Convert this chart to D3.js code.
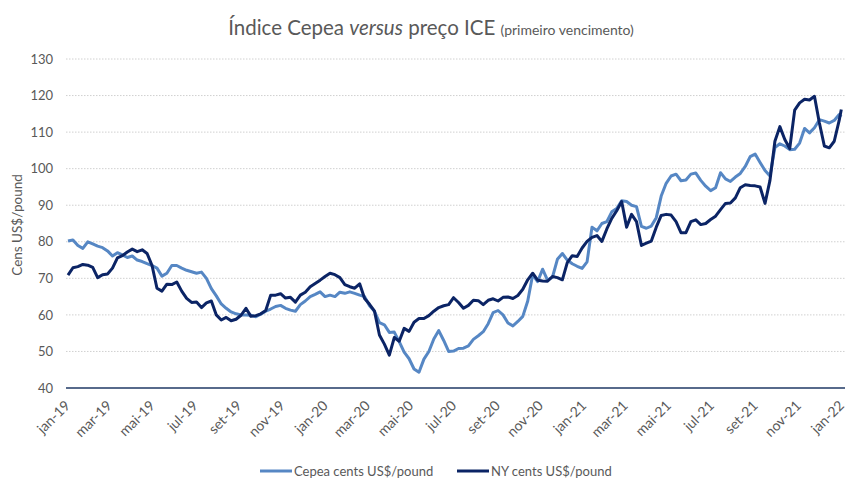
<!DOCTYPE html>
<html>
<head>
<meta charset="utf-8">
<script src="https://cdn.jsdelivr.net/npm/d3@7"></script>
<style>
  body { margin: 0; background: #fff; }
  svg { font-family: Lato, "Open Sans", sans-serif; }
</style>
</head>
<body>
<svg width="846" height="478"></svg>
<script>
// weekly quotes, jan-2019 to dez-2021
var dates = [
  "2019-01-01","2019-01-08","2019-01-15","2019-01-22","2019-01-29","2019-02-05","2019-02-12","2019-02-19","2019-02-26",
  "2019-03-05","2019-03-12","2019-03-19","2019-03-26","2019-04-02","2019-04-09","2019-04-16","2019-04-23","2019-04-30",
  "2019-05-07","2019-05-14","2019-05-21","2019-05-28","2019-06-04","2019-06-11","2019-06-18","2019-06-25","2019-07-02",
  "2019-07-09","2019-07-16","2019-07-23","2019-07-30","2019-08-06","2019-08-13","2019-08-20","2019-08-27","2019-09-03",
  "2019-09-10","2019-09-17","2019-09-24","2019-10-01","2019-10-08","2019-10-15","2019-10-22","2019-10-29","2019-11-05",
  "2019-11-12","2019-11-19","2019-11-26","2019-12-03","2019-12-10","2019-12-17","2019-12-24","2019-12-31",
  "2020-01-07","2020-01-14","2020-01-21","2020-01-28","2020-02-04","2020-02-11","2020-02-18","2020-02-25","2020-03-03",
  "2020-03-10","2020-03-17","2020-03-24","2020-03-31","2020-04-07","2020-04-14","2020-04-21","2020-04-28","2020-05-05",
  "2020-05-12","2020-05-19","2020-05-26","2020-06-02","2020-06-09","2020-06-16","2020-06-23","2020-06-30","2020-07-07",
  "2020-07-14","2020-07-21","2020-07-28","2020-08-04","2020-08-11","2020-08-18","2020-08-25","2020-09-01","2020-09-08",
  "2020-09-15","2020-09-22","2020-09-29","2020-10-06","2020-10-13","2020-10-20","2020-10-27","2020-11-03","2020-11-10",
  "2020-11-17","2020-11-24","2020-12-01","2020-12-08","2020-12-15","2020-12-22","2020-12-29",
  "2021-01-05","2021-01-12","2021-01-19","2021-01-26","2021-02-02","2021-02-09","2021-02-16","2021-02-23","2021-03-02",
  "2021-03-09","2021-03-16","2021-03-23","2021-03-30","2021-04-06","2021-04-13","2021-04-20","2021-04-27","2021-05-04",
  "2021-05-11","2021-05-18","2021-05-25","2021-06-01","2021-06-08","2021-06-15","2021-06-22","2021-06-29","2021-07-06",
  "2021-07-13","2021-07-20","2021-07-27","2021-08-03","2021-08-10","2021-08-17","2021-08-24","2021-08-31","2021-09-07",
  "2021-09-14","2021-09-21","2021-09-28","2021-10-05","2021-10-12","2021-10-19","2021-10-26","2021-11-02","2021-11-09",
  "2021-11-16","2021-11-23","2021-11-30","2021-12-07","2021-12-14","2021-12-21","2021-12-28","2021-12-31"
];

// Cepea cents US$/pound
var cepea = [
  80.2, 80.5, 79.0, 78.2, 80.0, 79.4, 78.8, 78.4, 77.5, 76.1, 77.0, 76.4, 75.7, 76.1, 75.0, 74.6, 74.0, 73.5,
  72.8, 70.6, 71.4, 73.5, 73.5, 72.8, 72.2, 71.8, 71.4, 71.7, 70.0, 67.2, 65.2, 63.0, 61.8, 60.8, 60.3, 60.0,
  60.0, 59.9, 59.5, 60.2, 61.0, 61.6, 62.3, 62.6, 61.8, 61.3, 61.0, 62.8, 63.8, 65.0, 65.6, 66.3, 65.0,
  65.4, 65.0, 66.2, 65.9, 66.3, 65.9, 65.4, 65.0, 62.5, 61.0, 57.9, 57.3, 55.2, 55.3, 52.7, 49.8, 48.0, 45.2,
  44.3, 47.9, 50.0, 53.4, 55.7, 53.0, 50.0, 50.1, 50.8, 50.9, 51.5, 53.3, 54.3, 55.4, 57.6, 60.6, 61.2, 60.0,
  57.8, 57.0, 58.2, 59.6, 63.8, 71.0, 69.1, 72.5, 69.5, 70.3, 75.2, 76.8, 75.0, 74.0, 73.3, 72.7,
  74.5, 84.0, 83.0, 85.0, 85.5, 88.2, 89.1, 91.2, 91.0, 90.0, 89.6, 84.2, 83.7, 84.3, 86.6, 92.5, 96.0, 98.0,
  98.5, 96.7, 96.9, 98.5, 98.8, 96.8, 95.2, 94.0, 94.8, 98.9, 97.2, 96.5, 97.7, 98.7, 100.6, 103.3, 104.0, 101.7,
  99.5, 98.0, 105.8, 106.8, 106.2, 105.2, 105.3, 107.0, 111.0, 109.8, 111.2, 113.4, 113.0, 112.5, 113.2, 114.8, 114.2
];

// NY cents US$/pound (ICE, primeiro vencimento)
var ny = [
  70.9, 72.9, 73.2, 73.8, 73.6, 73.0, 70.2, 71.0, 71.2, 72.8, 75.6, 76.2, 77.2, 78.0, 77.3, 77.8, 76.8, 73.5,
  67.3, 66.5, 68.4, 68.3, 69.0, 66.5, 64.5, 63.4, 63.5, 62.0, 63.3, 63.8, 60.0, 58.6, 59.3, 58.4, 58.8, 59.9,
  61.8, 59.6, 59.8, 60.3, 61.2, 65.4, 65.4, 65.8, 64.6, 64.8, 63.5, 65.4, 66.2, 67.7, 68.6, 69.5, 70.5,
  71.4, 71.0, 70.2, 68.3, 67.7, 67.3, 68.5, 64.5, 62.9, 61.0, 54.5, 52.0, 49.0, 53.8, 52.8, 56.3, 55.5, 58.0,
  59.0, 59.0, 59.8, 61.0, 62.0, 62.5, 62.8, 64.7, 63.4, 61.8, 62.6, 64.0, 63.9, 62.8, 64.0, 64.4, 63.8, 64.8,
  64.9, 64.5, 65.3, 67.0, 69.6, 71.4, 69.5, 69.3, 69.2, 70.5, 70.2, 69.6, 74.3, 76.2, 76.0, 78.3,
  80.1, 81.2, 81.7, 80.1, 83.5, 86.4, 88.5, 91.0, 84.0, 87.5, 85.5, 79.0, 79.6, 80.2, 84.0, 87.2, 87.5, 87.3,
  85.5, 82.5, 82.5, 85.5, 86.0, 84.7, 85.0, 86.1, 87.0, 88.8, 90.5, 90.6, 92.0, 94.8, 95.6, 95.4, 95.3, 95.0,
  90.5, 96.8, 107.5, 111.5, 108.0, 105.5, 116.0, 118.0, 119.0, 118.8, 119.8, 112.5, 106.2, 105.7, 107.5, 113.2, 116.2
];

var yTicks = [40, 50, 60, 70, 80, 90, 100, 110, 120, 130];
var mesesPt = ["jan", "fev", "mar", "abr", "mai", "jun", "jul", "ago", "set", "out", "nov", "dez"];
var seriesNames = ["Cepea cents US$/pound", "NY cents US$/pound"];
var seriesColors = ["#5687c4", "#0b2465"];

var svg = d3.select("svg"),
  width = +svg.attr("width"),
  height = +svg.attr("height");

var parseDate = d3.timeParse("%Y-%m-%d");
var margin = { left: 68, right: 842, top: 59, bottom: 388 };

var x = d3
  .scaleTime()
  .domain([parseDate("2019-01-01"), parseDate("2022-01-01")])
  .range([margin.left, margin.right]);

var y = d3.scaleLinear().domain([40, 130]).range([margin.bottom, margin.top]);

// title
var title = svg
  .append("text")
  .attr("x", 431)
  .attr("y", 35)
  .attr("text-anchor", "middle")
  .attr("fill", "#595959")
  .style("font-size", "20.5px");
title.append("tspan").text("Índice Cepea ");
title.append("tspan").style("font-style", "italic").text("versus");
title.append("tspan").text(" preço ICE ");
title.append("tspan").style("font-size", "14px").text("(primeiro vencimento)");

// gridlines
svg
  .append("g")
  .selectAll("line")
  .data(yTicks.filter(function (d) { return d > 40; }))
  .enter()
  .append("line")
  .attr("x1", 66)
  .attr("x2", 845)
  .attr("y1", function (d) { return y(d); })
  .attr("y2", function (d) { return y(d); })
  .attr("stroke", "#d0d0d0")
  .attr("stroke-width", 1)
  .attr("stroke-dasharray", "1.5,1.5");

// y axis labels
var yAxis = d3.axisLeft(y).tickValues(yTicks).tickSize(0).tickPadding(0);
var gy = svg.append("g").attr("transform", "translate(53,0)").call(yAxis);
gy.select(".domain").remove();
gy.selectAll("text")
  .attr("fill", "#595959")
  .style("font-size", "13px")
  .style("font-family", "Lato, sans-serif");

// y axis title
svg
  .append("text")
  .attr("transform", "translate(22,225) rotate(-90)")
  .attr("text-anchor", "middle")
  .attr("fill", "#595959")
  .style("font-size", "13.5px")
  .text("Cens US$/pound");

// x axis
var xAxis = d3
  .axisBottom(x)
  .ticks(d3.timeMonth.every(2))
  .tickSize(0)
  .tickFormat(function (d) {
    return mesesPt[d.getMonth()] + "-" + String(d.getFullYear()).slice(2);
  });
var gx = svg
  .append("g")
  .attr("transform", "translate(0," + margin.bottom + ")")
  .call(xAxis);
gx.select(".domain").remove();
gx.selectAll("text")
  .attr("fill", "#595959")
  .style("font-size", "14px")
  .style("font-family", "Lato, sans-serif")
  .attr("text-anchor", "end")
  .attr("x", 0)
  .attr("y", 0)
  .attr("dy", "0.35em")
  .attr("transform", "translate(-1,15) rotate(-45)");

// baseline
svg
  .append("line")
  .attr("x1", 66)
  .attr("x2", 845)
  .attr("y1", y(40))
  .attr("y2", y(40))
  .attr("stroke", "#1f3864")
  .attr("stroke-width", 1.5);

// lines
var rows = dates.map(function (d, i) {
  return { date: parseDate(d), cepea: cepea[i], ny: ny[i] };
});
var keys = ["cepea", "ny"];

keys.forEach(function (k, i) {
  var line = d3
    .line()
    .x(function (d) { return x(d.date); })
    .y(function (d) { return y(d[k]); });
  svg
    .append("path")
    .datum(rows)
    .attr("d", line)
    .attr("fill", "none")
    .attr("stroke", seriesColors[i])
    .attr("stroke-width", 3)
    .attr("stroke-linejoin", "round");
});

// legend
var legendX = [260, 457];
var legend = svg
  .append("g")
  .selectAll("g")
  .data(seriesNames)
  .enter()
  .append("g")
  .attr("transform", function (d, i) { return "translate(" + legendX[i] + ",471)"; });
legend
  .append("line")
  .attr("x1", 0)
  .attr("x2", 32)
  .attr("stroke", function (d, i) { return seriesColors[i]; })
  .attr("stroke-width", 3);
legend
  .append("text")
  .attr("x", 34)
  .attr("dy", "0.35em")
  .attr("fill", "#595959")
  .style("font-size", "13px")
  .text(function (d) { return d; });
</script>
</body>
</html>
